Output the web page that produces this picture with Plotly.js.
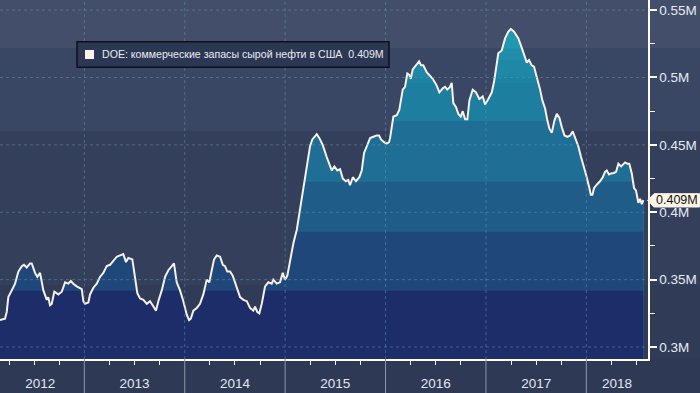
<!DOCTYPE html>
<html>
<head>
<meta charset="utf-8">
<script src="https://cdn.plot.ly/plotly-3.0.1.min.js"></script>
<style>
  html, body { margin: 0; padding: 0; background: #2e3a55; }
  #chart { width: 700px; height: 393px; }
</style>
</head>
<body>
<div id="chart"></div>
<script>
// ---- data (time in decimal years, commercial crude stocks in "M") ----
const weeks = [
  2012.160, 2012.210, 2012.227, 2012.243, 2012.277, 2012.310, 2012.343, 2012.377, 2012.399, 2012.426,
  2012.459, 2012.476, 2012.509, 2012.532, 2012.559, 2012.592, 2012.626, 2012.641, 2012.658, 2012.675,
  2012.701, 2012.741, 2012.775, 2012.808, 2012.841, 2012.865, 2012.890, 2012.924, 2012.974, 2012.990,
  2013.007, 2013.040, 2013.057, 2013.090, 2013.124, 2013.156, 2013.189, 2013.223, 2013.256, 2013.289,
  2013.323, 2013.356, 2013.388, 2013.415, 2013.438, 2013.478, 2013.505, 2013.528, 2013.555, 2013.588,
  2013.622, 2013.654, 2013.688, 2013.714, 2013.737, 2013.771, 2013.804, 2013.837, 2013.871, 2013.893,
  2013.920, 2013.953, 2013.986, 2014.020, 2014.043, 2014.060, 2014.086, 2014.120, 2014.152, 2014.185,
  2014.219, 2014.245, 2014.269, 2014.292, 2014.319, 2014.352, 2014.379, 2014.401, 2014.424, 2014.451,
  2014.478, 2014.518, 2014.551, 2014.584, 2014.618, 2014.650, 2014.683, 2014.700, 2014.723, 2014.743,
  2014.767, 2014.800, 2014.833, 2014.866, 2014.882, 2014.916, 2014.949, 2014.976, 2014.999, 2015.022,
  2015.049, 2015.082, 2015.116, 2015.148, 2015.165, 2015.198, 2015.221, 2015.248, 2015.271, 2015.298,
  2015.315, 2015.341, 2015.374, 2015.414, 2015.447, 2015.464, 2015.490, 2015.520, 2015.547, 2015.574,
  2015.604, 2015.629, 2015.646, 2015.674, 2015.706, 2015.739, 2015.763, 2015.786, 2015.819, 2015.846,
  2015.879, 2015.912, 2015.935, 2015.955, 2015.985, 2016.012, 2016.035, 2016.045, 2016.078, 2016.112,
  2016.137, 2016.171, 2016.194, 2016.217, 2016.237, 2016.251, 2016.271, 2016.304, 2016.334, 2016.354,
  2016.376, 2016.410, 2016.443, 2016.470, 2016.510, 2016.536, 2016.570, 2016.593, 2016.615, 2016.642,
  2016.659, 2016.675, 2016.702, 2016.725, 2016.749, 2016.769, 2016.792, 2016.815, 2016.835, 2016.868,
  2016.901, 2016.934, 2016.968, 2016.991, 2017.024, 2017.058, 2017.081, 2017.101, 2017.123, 2017.157,
  2017.190, 2017.223, 2017.247, 2017.280, 2017.323, 2017.357, 2017.389, 2017.407, 2017.429, 2017.456,
  2017.479, 2017.506, 2017.539, 2017.562, 2017.589, 2017.612, 2017.632, 2017.656, 2017.682, 2017.706,
  2017.732, 2017.756, 2017.782, 2017.812, 2017.839, 2017.864, 2017.887, 2017.920, 2017.947, 2017.977,
  2018.004, 2018.027, 2018.044, 2018.060, 2018.077, 2018.110, 2018.136, 2018.163, 2018.186, 2018.203,
  2018.226, 2018.253, 2018.269, 2018.296, 2018.319, 2018.346, 2018.386, 2018.408, 2018.428, 2018.452,
  2018.475, 2018.495, 2018.518, 2018.535, 2018.552, 2018.568
];
const stocks = [
  0.320, 0.321, 0.326, 0.337, 0.342, 0.347, 0.356, 0.360, 0.361, 0.359,
  0.362, 0.362, 0.355, 0.352, 0.355, 0.342, 0.335, 0.337, 0.331, 0.332,
  0.341, 0.339, 0.341, 0.348, 0.347, 0.349, 0.347, 0.345, 0.343, 0.334,
  0.332, 0.333, 0.339, 0.344, 0.347, 0.352, 0.355, 0.360, 0.361, 0.364,
  0.367, 0.368, 0.369, 0.363, 0.366, 0.365, 0.352, 0.340, 0.336, 0.335,
  0.332, 0.334, 0.330, 0.327, 0.334, 0.342, 0.352, 0.357, 0.360, 0.362,
  0.348, 0.342, 0.334, 0.324, 0.320, 0.321, 0.327, 0.329, 0.332, 0.339,
  0.350, 0.348, 0.357, 0.365, 0.368, 0.367, 0.361, 0.360, 0.356, 0.356,
  0.353, 0.345, 0.337, 0.335, 0.334, 0.329, 0.327, 0.330, 0.326, 0.325,
  0.332, 0.345, 0.348, 0.347, 0.350, 0.347, 0.348, 0.355, 0.350, 0.353,
  0.365, 0.377, 0.387, 0.402, 0.413, 0.426, 0.439, 0.449, 0.454, 0.457,
  0.458, 0.455, 0.450, 0.441, 0.435, 0.431, 0.434, 0.431, 0.432, 0.425,
  0.423, 0.424, 0.420, 0.426, 0.423, 0.426, 0.431, 0.444, 0.450, 0.455,
  0.456, 0.457, 0.457, 0.454, 0.452, 0.451, 0.452, 0.455, 0.471, 0.472,
  0.476, 0.491, 0.493, 0.503, 0.502, 0.499, 0.506, 0.509, 0.512, 0.509,
  0.509, 0.504, 0.501, 0.499, 0.494, 0.489, 0.492, 0.493, 0.491, 0.493,
  0.496, 0.481, 0.478, 0.473, 0.471, 0.475, 0.469, 0.469, 0.483, 0.491,
  0.489, 0.484, 0.486, 0.480, 0.484, 0.489, 0.497, 0.508, 0.518, 0.520,
  0.529, 0.534, 0.536, 0.534, 0.529, 0.522, 0.515, 0.511, 0.513, 0.509,
  0.508, 0.501, 0.491, 0.483, 0.477, 0.468, 0.462, 0.459, 0.468, 0.473,
  0.470, 0.463, 0.457, 0.456, 0.457, 0.460, 0.456, 0.449, 0.441, 0.434,
  0.426, 0.419, 0.413, 0.413, 0.418, 0.421, 0.423, 0.426, 0.430, 0.431,
  0.428, 0.429, 0.429, 0.430, 0.436, 0.434, 0.437, 0.436, 0.436, 0.429,
  0.418, 0.416, 0.407, 0.410, 0.406, 0.409
];
const lastValue = 0.409;
const seriesName = "DOE: коммерческие запасы сырой нефти в США";

// ---- axis ticks ----
const yTickVals = [0.3, 0.35, 0.4, 0.45, 0.5, 0.55];
const yTickText = ["0.3M", "0.35M", "0.4M", "0.45M", "0.5M", "0.55M"];
const yMinorVals = [0.325, 0.375, 0.425, 0.475, 0.525];
const yearBounds = [2013, 2014, 2015, 2016, 2017, 2018];
const yearLabelPos = [2012.56, 2013.5, 2014.5, 2015.5, 2016.5, 2017.5, 2018.305];
const yearLabels = ["2012", "2013", "2014", "2015", "2016", "2017", "2018"];
const quarterTicks = [2012.25, 2012.5, 2012.75, 2013.25, 2013.5, 2013.75, 2014.25, 2014.5, 2014.75,
  2015.25, 2015.5, 2015.75, 2016.25, 2016.5, 2016.75, 2017.25, 2017.5, 2017.75, 2018.25, 2018.5];

// ---- styling: level bands of the area fill (upper edge, colour), from top to bottom ----
const fillBandTops   = [Infinity, 0.5216, 0.5130, 0.5006, 0.4957, 0.4677, 0.4227, 0.3856, 0.3418];
const fillBandColors = ['#2396b0', '#208eaa', '#1e88a6', '#1d83a2', '#1d7e9f', '#1e6e95', '#1f5c88', '#1f477a', '#1d2d69'];

const FONT = "'Liberation Sans', Arial, sans-serif";

const traces = [];
fillBandTops.forEach((top, i) => {
  traces.push({
    x: weeks,
    y: stocks.map(v => Math.min(v, top)),
    type: 'scatter', mode: 'lines',
    line: { width: 0, color: fillBandColors[i] },
    fill: 'tozeroy', fillcolor: fillBandColors[i],
    hoverinfo: 'skip', showlegend: false
  });
});
traces.push({
  x: weeks, y: stocks, type: 'scatter', mode: 'lines',
  line: { color: '#f6f1ea', width: 2 }, name: seriesName, showlegend: false
});

const shapes = [];
// background level bands (paper coords, extend into right margin)
const bgBands = [[0.8663, 1.0, '#424e6a'], [0.6351, 0.8663, '#3a4764'], [0.2061, 0.6351, '#333f5b'], [0.0, 0.2061, '#2f3b57']];
bgBands.forEach(b => shapes.push({ type: 'rect', xref: 'paper', yref: 'paper', x0: 0, x1: 1.1, y0: b[0], y1: b[1],
  fillcolor: b[2], line: { width: 0 }, layer: 'below' }));
// dotted grid
yTickVals.forEach(v => shapes.push({ type: 'line', xref: 'paper', yref: 'y', x0: 0, x1: 1, y0: v, y1: v,
  line: { color: 'rgba(100,150,180,0.5)', width: 1, dash: 'dot' }, layer: 'above' }));
yearBounds.forEach(v => shapes.push({ type: 'line', xref: 'x', yref: 'paper', x0: v, x1: v, y0: 0, y1: 1,
  line: { color: 'rgba(100,150,180,0.5)', width: 1, dash: 'dot' }, layer: 'above' }));
// year separators below axis
yearBounds.forEach(v => shapes.push({ type: 'line', xref: 'x', yref: 'paper', x0: v, x1: v, y0: 0, y1: -0.095,
  line: { color: '#8c96a8', width: 1 }, layer: 'above' }));
// legend box
shapes.push({ type: 'rect', xref: 'paper', yref: 'paper', x0: 0.1188, x1: 0.6003, y0: 0.8125, y1: 0.8838,
  fillcolor: '#2c3853', line: { color: '#0c111c', width: 1.5 }, layer: 'above' });
shapes.push({ type: 'rect', xref: 'paper', yref: 'paper', x0: 0.1312, x1: 0.1451, y0: 0.8357, y1: 0.8607,
  fillcolor: '#fdf1ec', line: { width: 0 }, layer: 'above' });
// last value tag
shapes.push({ type: 'path', xref: 'paper', yref: 'paper',
  path: 'M 0.9992,0.4416 L 1.0093,0.4604 L 1.0795,0.4604 L 1.0795,0.4234 L 1.0093,0.4234 Z',
  fillcolor: '#fdf6e8', line: { color: '#fdf6e8', width: 1 }, layer: 'above' });

const layout = {
  width: 700, height: 393,
  margin: { l: 0, r: 52, t: 0, b: 34 },
  paper_bgcolor: '#2e3a55', plot_bgcolor: 'rgba(0,0,0,0)',
  font: { family: FONT, color: '#e6ebf3' },
  showlegend: false,
  xaxis: {
    range: [2012.16, 2018.614], showgrid: false, zeroline: false,
    showline: true, linecolor: '#ffffff', linewidth: 1.5,
    tickmode: 'array', tickvals: yearLabelPos, ticktext: yearLabels, ticks: '',
    ticklabelstandoff: 11,
    tickfont: { size: 13.5, color: '#e3e8f0', family: FONT },
    minor: { tickmode: 'array', tickvals: quarterTicks, ticks: 'outside', ticklen: 4, tickwidth: 1, tickcolor: '#ffffff', showgrid: false }
  },
  yaxis: {
    range: [0.2911, 0.5575], side: 'right', showgrid: false, zeroline: false,
    showline: true, linecolor: '#ffffff', linewidth: 1.5,
    tickmode: 'array', tickvals: yTickVals, ticktext: yTickText,
    ticks: 'outside', ticklen: 7, tickwidth: 2, tickcolor: '#ffffff',
    tickfont: { size: 13.5, color: '#e6ebf3', family: FONT },
    minor: { tickmode: 'array', tickvals: yMinorVals, ticks: 'outside', ticklen: 5, tickwidth: 1, tickcolor: '#ffffff', showgrid: false }
  },
  shapes: shapes,
  annotations: [
    { xref: 'paper', yref: 'paper', x: 0.1543, y: 0.8482, xanchor: 'left', yanchor: 'middle', showarrow: false,
      text: seriesName + '&nbsp;&nbsp;' + lastValue.toFixed(3) + 'M',
      font: { size: 10.6, color: '#e9ebf2', family: FONT } },
    { xref: 'paper', yref: 'y', x: 1.0445, y: lastValue, xanchor: 'center', yanchor: 'middle', showarrow: false,
      text: lastValue.toFixed(3) + 'M', font: { size: 12.5, color: '#111111', family: FONT } }
  ]
};

Plotly.newPlot('chart', traces, layout, { displayModeBar: false, staticPlot: true });
</script>
</body>
</html>
